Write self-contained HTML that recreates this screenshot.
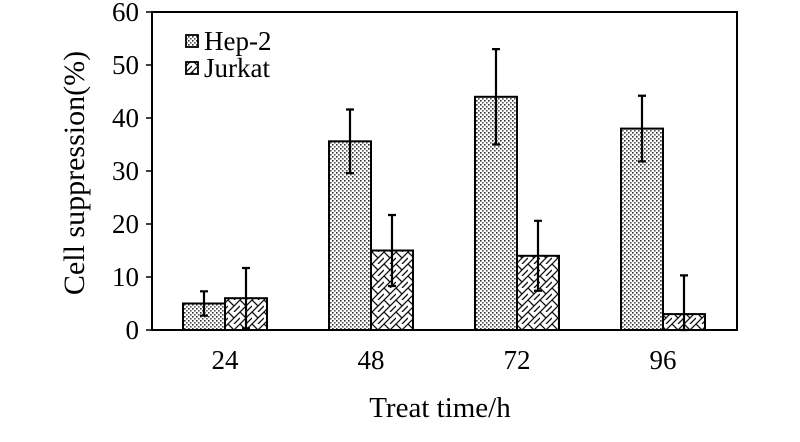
<!DOCTYPE html>
<html><head><meta charset="utf-8"><style>
body{margin:0;background:#fff}
svg{display:block;font-family:"Liberation Serif",serif}
</style></head><body>
<svg width="800" height="442">
<defs>
<pattern id="dots" width="4" height="4" patternUnits="userSpaceOnUse">
<rect width="4" height="4" fill="#fff"/><rect x="0" y="0" width="1.6" height="1.6" fill="#333"/><rect x="2" y="2" width="1.6" height="1.6" fill="#555"/>
</pattern>
<pattern id="brick" width="12" height="12" patternUnits="userSpaceOnUse">
<rect width="12" height="12" fill="#fff"/>
<path d="M0 12 L12 0 M-3 3 L3 -3 M9 15 L15 9 M0 0 L6 6 M6 12 L12 6" stroke="#111" stroke-width="1.3" fill="none"/>
</pattern>
</defs>
<g id="plot"></g>
<text x="440" y="417" font-size="29" text-anchor="middle">Treat time/h</text>
<text transform="translate(84,173) rotate(-90)" font-size="30" text-anchor="middle">Cell suppression(%)</text>
<g>
<rect x="186" y="35" width="12" height="12" fill="url(#dots)" stroke="#000" stroke-width="1.8"/>
<text x="204" y="50" font-size="27">Hep-2</text>
<rect x="186" y="62" width="12" height="12" fill="url(#brick)" stroke="#000" stroke-width="1.8"/>
<text x="204" y="77" font-size="27">Jurkat</text>
</g>
</svg>
<script>
const categories=["24","48","72","96"];
const hepValues=[5,35.6,44,38];
const hepErrors=[2.3,6,9,6.2];
const jurValues=[6,15,14,3];
const jurErrors=[5.7,6.7,6.6,7.3];
const yTicks=[0,10,20,30,40,50,60];
const L=152,R=737,T=12,B=330,yMax=60;
const y=v=>B-(v/yMax)*(B-T);
const groupW=146, first=225, bw=42;
const xc=i=>first+i*groupW;
const g=document.getElementById('plot');
const NS='http://www.w3.org/2000/svg';
function mk(t,a){const e=document.createElementNS(NS,t);for(const k in a)e.setAttribute(k,a[k]);g.appendChild(e);return e;}
function bar(x,v,err,fill,name){
 const r=mk('rect',{x:x,y:y(v),width:bw,height:B-y(v),fill:fill,stroke:'#000','stroke-width':2});
 
 
 const cx=x+bw/2;
 const e=mk('path',{d:`M${cx} ${y(v+err)}V${y(Math.max(0,v-err))}M${cx-4} ${y(v+err)}H${cx+4}M${cx-4} ${y(Math.max(0,v-err))}H${cx+4}`,stroke:'#000','stroke-width':2.2,fill:'none'});
 
 
}
categories.forEach((c,i)=>{
 bar(xc(i)-bw,hepValues[i],hepErrors[i],'url(#dots)','bar-hep2-'+c);
 bar(xc(i),jurValues[i],jurErrors[i],'url(#brick)','bar-jurkat-'+c);
 const t=mk('text',{x:xc(i),y:369,'font-size':27,'text-anchor':'middle'});t.textContent=c;
 
 
});
yTicks.forEach(v=>{
 const tk=mk('line',{x1:L-6,x2:L,y1:y(v),y2:y(v),stroke:'#000','stroke-width':1.5});
 
 
 const t=mk('text',{x:139,y:y(v)+9,'font-size':27,'text-anchor':'end'});t.textContent=v;
 
 
});
const f=mk('rect',{x:L,y:T,width:R-L,height:B-T,fill:'none',stroke:'#000','stroke-width':2});


</script>
</body></html>
